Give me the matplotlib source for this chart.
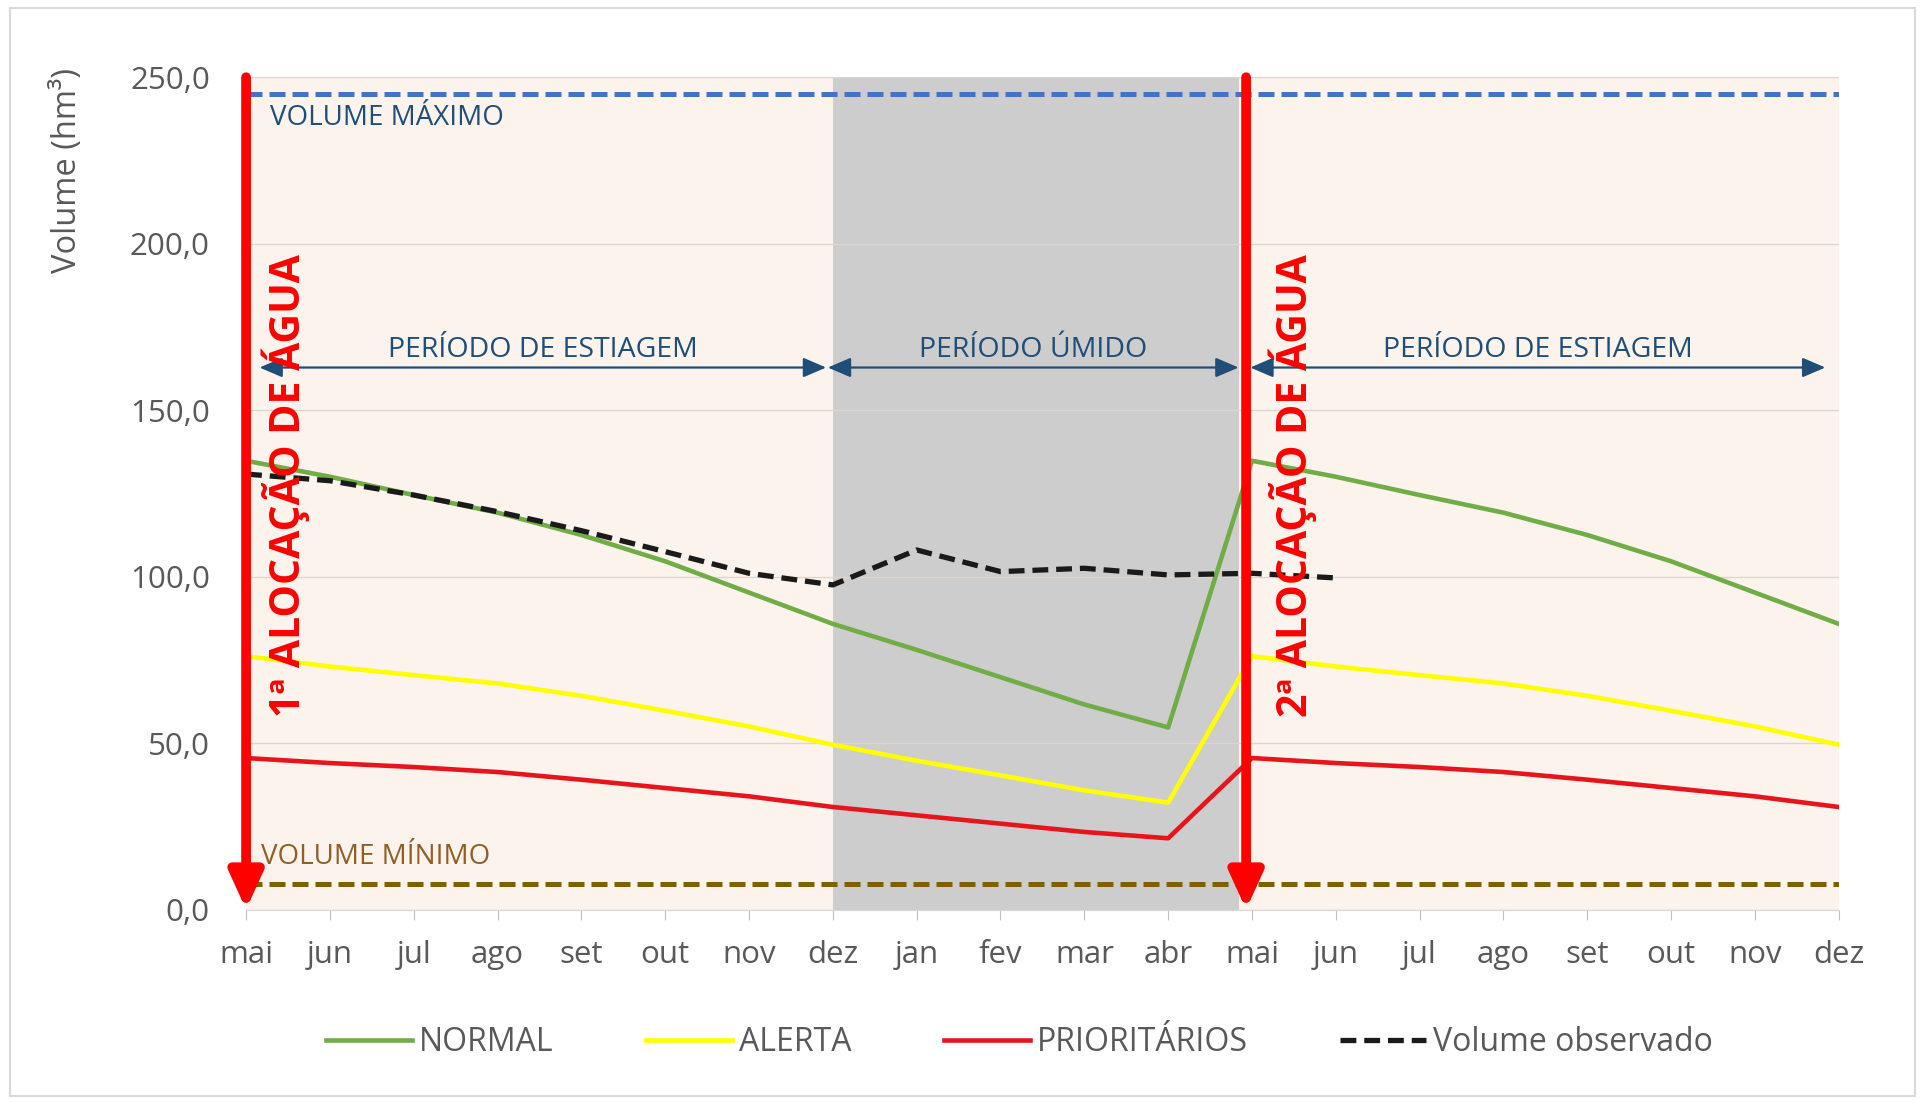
import matplotlib.pyplot as plt
from matplotlib.patches import Rectangle

plt.rcParams['font.family'] = ['Open Sans', 'DejaVu Sans']

# meses (maio a dezembro do ano seguinte)
meses = ['mai', 'jun', 'jul', 'ago', 'set', 'out', 'nov', 'dez', 'jan', 'fev', 'mar', 'abr',
         'mai', 'jun', 'jul', 'ago', 'set', 'out', 'nov', 'dez']

normal = [134.8, 130.0, 124.5, 119.2, 112.5, 104.6, 95.2, 85.8, 78.0, 69.8, 61.6, 54.7,
          134.8, 130.0, 124.5, 119.2, 112.5, 104.6, 95.2, 85.8]
alerta = [76.1, 73.0, 70.4, 67.9, 64.2, 59.7, 55.0, 49.5, 44.7, 40.3, 35.8, 32.1,
          76.1, 73.0, 70.4, 67.9, 64.2, 59.7, 55.0, 49.5]
prioritarios = [45.5, 44.0, 42.8, 41.3, 39.0, 36.5, 34.0, 30.8, 28.3, 25.8, 23.3, 21.4,
                45.5, 44.0, 42.8, 41.3, 39.0, 36.5, 34.0, 30.8]
observado = [130.8, 128.8, 124.5, 119.5, 113.8, 107.5, 101.0, 97.5, 108.0, 101.5, 102.5, 100.5,
             101.0, 99.6]

volume_maximo = 245.0
volume_minimo = 7.8

yticks = [0, 50, 100, 150, 200, 250]
ytick_labels = ['0,0', '50,0', '100,0', '150,0', '200,0', '250,0']

azul = '#1F4E79'
cinza_txt = '#595959'

fig = plt.figure(figsize=(19.27, 11.03), dpi=100)
fig.patches.append(Rectangle((0.005, 0.006), 0.989, 0.987, transform=fig.transFigure,
                             fill=False, edgecolor='#D9D9D9', lw=1.5))
ax = fig.add_axes([0.1277, 0.1754, 0.8265, 0.7546])

x = list(range(len(meses)))
xo = list(range(len(observado)))

ax.set_facecolor('#FBF3EC')
ax.axvspan(7, 11.85, color='#CDCDCD', zorder=0.5, lw=0)

ax.axhline(volume_maximo, color='#4472C4', lw=3.6, dashes=(3.2, 1.4), zorder=2)
ax.axhline(volume_minimo, color='#7F6000', lw=3.6, dashes=(3.2, 1.4), zorder=2)

ax.plot(x, normal, color='#70AD47', lw=3.3, label='NORMAL', zorder=3)
ax.plot(x, alerta, color='#FFFF00', lw=3.3, label='ALERTA', zorder=3)
ax.plot(x, prioritarios, color='#E8141C', lw=3.3, label='PRIORITÁRIOS', zorder=3)
ax.plot(xo, observado, color='#1A1A1A', lw=3.8, dashes=(3, 1.5), label='Volume observado', zorder=4)

ax.set_xlim(0, len(meses) - 1)
ax.set_ylim(0, 250)
ax.set_xticks(x)
ax.set_xticklabels(meses)
ax.set_yticks(yticks)
ax.set_yticklabels(ytick_labels)
ax.tick_params(axis='x', colors='#BFBFBF', labelcolor=cinza_txt, labelsize=22.5, length=7, pad=15)
ax.tick_params(axis='y', length=0, labelcolor=cinza_txt, labelsize=22.5, pad=26)
ax.grid(axis='y', color='#DDD5CE', lw=1)
ax.set_axisbelow(True)
for s in ['left', 'top', 'right']:
    ax.spines[s].set_visible(False)
ax.spines['bottom'].set_color('#D9D9D9')

fig.text(0.035, 0.845, 'Volume (hm³)', rotation=90, ha='center', va='center',
         color=cinza_txt, fontsize=23.5)

# textos de volume
ax.text(0.29, 237.8, 'VOLUME MÁXIMO', color=azul, fontsize=20, va='center', ha='left', zorder=5)
ax.text(0.18, 15.9, 'VOLUME MÍNIMO', color='#8F5F26', fontsize=20, va='center', ha='left', zorder=5)

# periodos
periodos = [(0.16, 6.92, 'PERÍODO DE ESTIAGEM'), (6.94, 11.84, 'PERÍODO ÚMIDO'),
            (11.98, 18.84, 'PERÍODO DE ESTIAGEM')]
for ini, fim, nome in periodos:
    ax.annotate('', xy=(fim, 162.8), xytext=(ini, 162.8),
                arrowprops=dict(arrowstyle='<|-|>,head_length=0.7,head_width=0.3', color=azul,
                                lw=1.6, mutation_scale=20, shrinkA=0, shrinkB=0), zorder=5)
    ax.text((ini + fim) / 2, 164.0, nome, color=azul, fontsize=20.5, ha='center', va='bottom', zorder=5)

# alocacoes de agua
alocacoes = [(0.0, 0.47, '1ª ALOCAÇÃO DE ÁGUA'), (11.93, 12.49, '2ª ALOCAÇÃO DE ÁGUA')]
for xa, xt, rotulo in alocacoes:
    ax.annotate('', xy=(xa, 0), xytext=(xa, 250),
                arrowprops=dict(arrowstyle='-|>,head_length=0.55,head_width=0.25', color='#FF0000',
                                lw=7, mutation_scale=40, shrinkA=0, shrinkB=0),
                annotation_clip=False, zorder=6)
    ax.text(xt, 127.4, rotulo, rotation=90, color='#FF0000', fontsize=29.5, fontweight='bold',
            ha='center', va='center', zorder=6)

fig.legend(loc='center', bbox_to_anchor=(0.529, 0.055), ncol=4, frameon=False, fontsize=23,
           labelcolor=cinza_txt, handlelength=2.7, handletextpad=0.2, columnspacing=2.9)

fig.savefig('out.png', dpi=100)
